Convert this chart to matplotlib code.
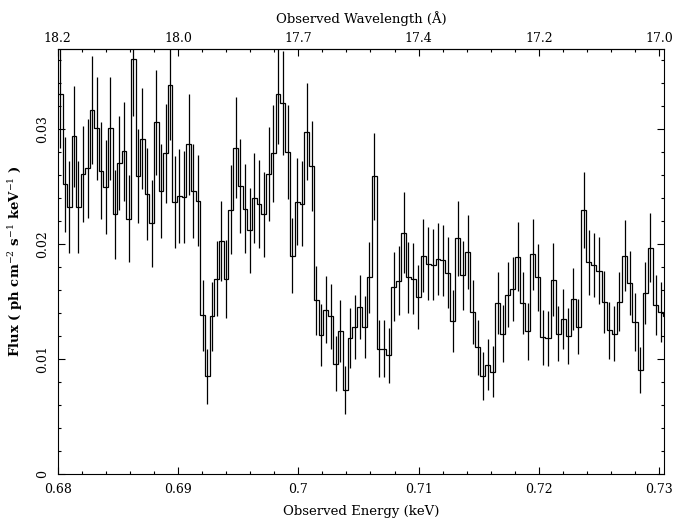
import numpy as np
import matplotlib
matplotlib.use("Agg")
import matplotlib.pyplot as plt
from matplotlib.ticker import MultipleLocator

# spectrum binned in wavelength (Angstrom), plotted against energy (keV)
HC = 12.3984
lam_start = 18.232
lam_step = 0.01005

flux = [
    0.0331, 0.0252, 0.0232, 0.0294, 0.0232, 0.0261, 0.0266, 0.0317, 0.0301, 0.0264,
    0.0250, 0.0301, 0.0226, 0.0271, 0.0281, 0.0222, 0.0361, 0.0259, 0.0292, 0.0244,
    0.0218, 0.0306, 0.0246, 0.0279, 0.0339, 0.0237, 0.0242,
    0.0241, 0.0287, 0.0246, 0.0238, 0.0138, 0.0085, 0.0137, 0.0170, 0.0203, 0.0170,
    0.0230, 0.0284, 0.0251, 0.0231, 0.0212, 0.0240, 0.0235, 0.0226, 0.0261, 0.0279,
    0.0331, 0.0323, 0.0280, 0.0190, 0.0237, 0.0235,
    0.0298, 0.0268, 0.0151, 0.0121, 0.0143, 0.0137, 0.0096, 0.0124, 0.0073, 0.0118,
    0.0128, 0.0145, 0.0128, 0.0171, 0.0259, 0.0109, 0.0109, 0.0103, 0.0163, 0.0168,
    0.0210, 0.0171, 0.0170, 0.0154, 0.0190,
    0.0183, 0.0182, 0.0187, 0.0186, 0.0175, 0.0133, 0.0205, 0.0173, 0.0193, 0.0141,
    0.0110, 0.0085, 0.0095, 0.0089, 0.0149, 0.0122, 0.0156, 0.0161, 0.0189, 0.0149,
    0.0124, 0.0191, 0.0171, 0.0119, 0.0118,
    0.0169, 0.0122, 0.0135, 0.0120, 0.0152, 0.0128, 0.0230, 0.0184, 0.0182, 0.0177,
    0.0150, 0.0125, 0.0122, 0.0150, 0.0190, 0.0166, 0.0132, 0.0090, 0.0157, 0.0197,
    0.0147, 0.0141, 0.0137, 0.0115,
]

flux_err = [
    0.0047, 0.0041, 0.0040, 0.0044, 0.0040, 0.0042, 0.0043, 0.0047, 0.0045, 0.0042,
    0.0041, 0.0045, 0.0039, 0.0041, 0.0043, 0.0038, 0.0049, 0.0041, 0.0044, 0.0040,
    0.0038, 0.0046, 0.0041, 0.0043, 0.0048, 0.0040, 0.0041,
    0.0040, 0.0044, 0.0041, 0.0040, 0.0031, 0.0024, 0.0030, 0.0033, 0.0035, 0.0034,
    0.0039, 0.0044, 0.0041, 0.0039, 0.0037, 0.0039, 0.0038, 0.0037, 0.0041, 0.0042,
    0.0044, 0.0045, 0.0041, 0.0033, 0.0038, 0.0037,
    0.0042, 0.0039, 0.0030, 0.0027, 0.0029, 0.0028, 0.0024, 0.0027, 0.0021, 0.0026,
    0.0028, 0.0028, 0.0027, 0.0031, 0.0038, 0.0025, 0.0025, 0.0024, 0.0030, 0.0030,
    0.0035, 0.0031, 0.0031, 0.0028, 0.0032,
    0.0032, 0.0031, 0.0031, 0.0031, 0.0031, 0.0027, 0.0033, 0.0030, 0.0032, 0.0028,
    0.0024, 0.0021, 0.0022, 0.0022, 0.0027, 0.0025, 0.0028, 0.0028, 0.0030, 0.0027,
    0.0025, 0.0031, 0.0029, 0.0024, 0.0024,
    0.0032, 0.0024, 0.0026, 0.0024, 0.0027, 0.0024, 0.0033, 0.0028, 0.0028, 0.0029,
    0.0027, 0.0025, 0.0024, 0.0026, 0.0031, 0.0028, 0.0025, 0.0020, 0.0027, 0.0030,
    0.0026, 0.0026, 0.0027, 0.0023,
]

energy_ticks = [0.68, 0.69, 0.70, 0.71, 0.72, 0.73]
energy_labels = ["0.68", "0.69", "0.7", "0.71", "0.72", "0.73"]
wave_labels = ["18.2", "18.0", "17.7", "17.4", "17.2", "17.0"]
flux_ticks = [0.0, 0.01, 0.02, 0.03]
flux_labels = ["0", "0.01", "0.02", "0.03"]

plt.rcParams["font.family"] = "DejaVu Serif"
plt.rcParams["mathtext.fontset"] = "dejavuserif"

y = np.array(flux)
dy = np.array(flux_err)
lam_edges = lam_start - lam_step * np.arange(len(y) + 1)
e_edges = HC / lam_edges
e_mid = 0.5 * (e_edges[:-1] + e_edges[1:])

fig = plt.figure(figsize=(6.76, 5.2), dpi=100)
ax = fig.add_axes([0.0854, 0.089, 0.8968, 0.8168])

ax.stairs(y, e_edges, baseline=None, color="black", lw=0.9)
ax.vlines(e_mid, y - dy, y + dy, color="black", lw=0.9)

ax.set_xlim(0.68, 0.7304)
ax.set_ylim(0, 0.037)

ax.set_xticks(energy_ticks, energy_labels, fontsize=9)
ax.xaxis.set_minor_locator(MultipleLocator(0.002))
ax.set_yticks(flux_ticks, flux_labels, fontsize=9, rotation=90, va="center")
ax.yaxis.set_minor_locator(MultipleLocator(0.002))
ax.tick_params(which="both", direction="in", right=True, width=0.8)
ax.tick_params(which="major", length=5)
ax.tick_params(which="minor", length=2.5)
ax.tick_params(axis="x", pad=7)
ax.tick_params(axis="y", pad=6)
for sp in ax.spines.values():
    sp.set_linewidth(0.8)

top = ax.secondary_xaxis("top")
top.set_xticks(energy_ticks, wave_labels, fontsize=9)
top.xaxis.set_minor_locator(MultipleLocator(0.002))
top.tick_params(which="both", direction="in", width=0.8, pad=3)
top.tick_params(which="major", length=5)
top.tick_params(which="minor", length=2.5)
top.set_xlabel("Observed Wavelength (Å)", fontsize=9.5, labelpad=6)

ax.set_xlabel("Observed Energy (keV)", fontsize=9.5, labelpad=6)
ax.set_ylabel(r"Flux ( ph cm$^{-2}$ s$^{-1}$ keV$^{-1}$ )", fontsize=9.5,
              fontweight="bold", labelpad=8)

fig.savefig("out.png", dpi=100)
